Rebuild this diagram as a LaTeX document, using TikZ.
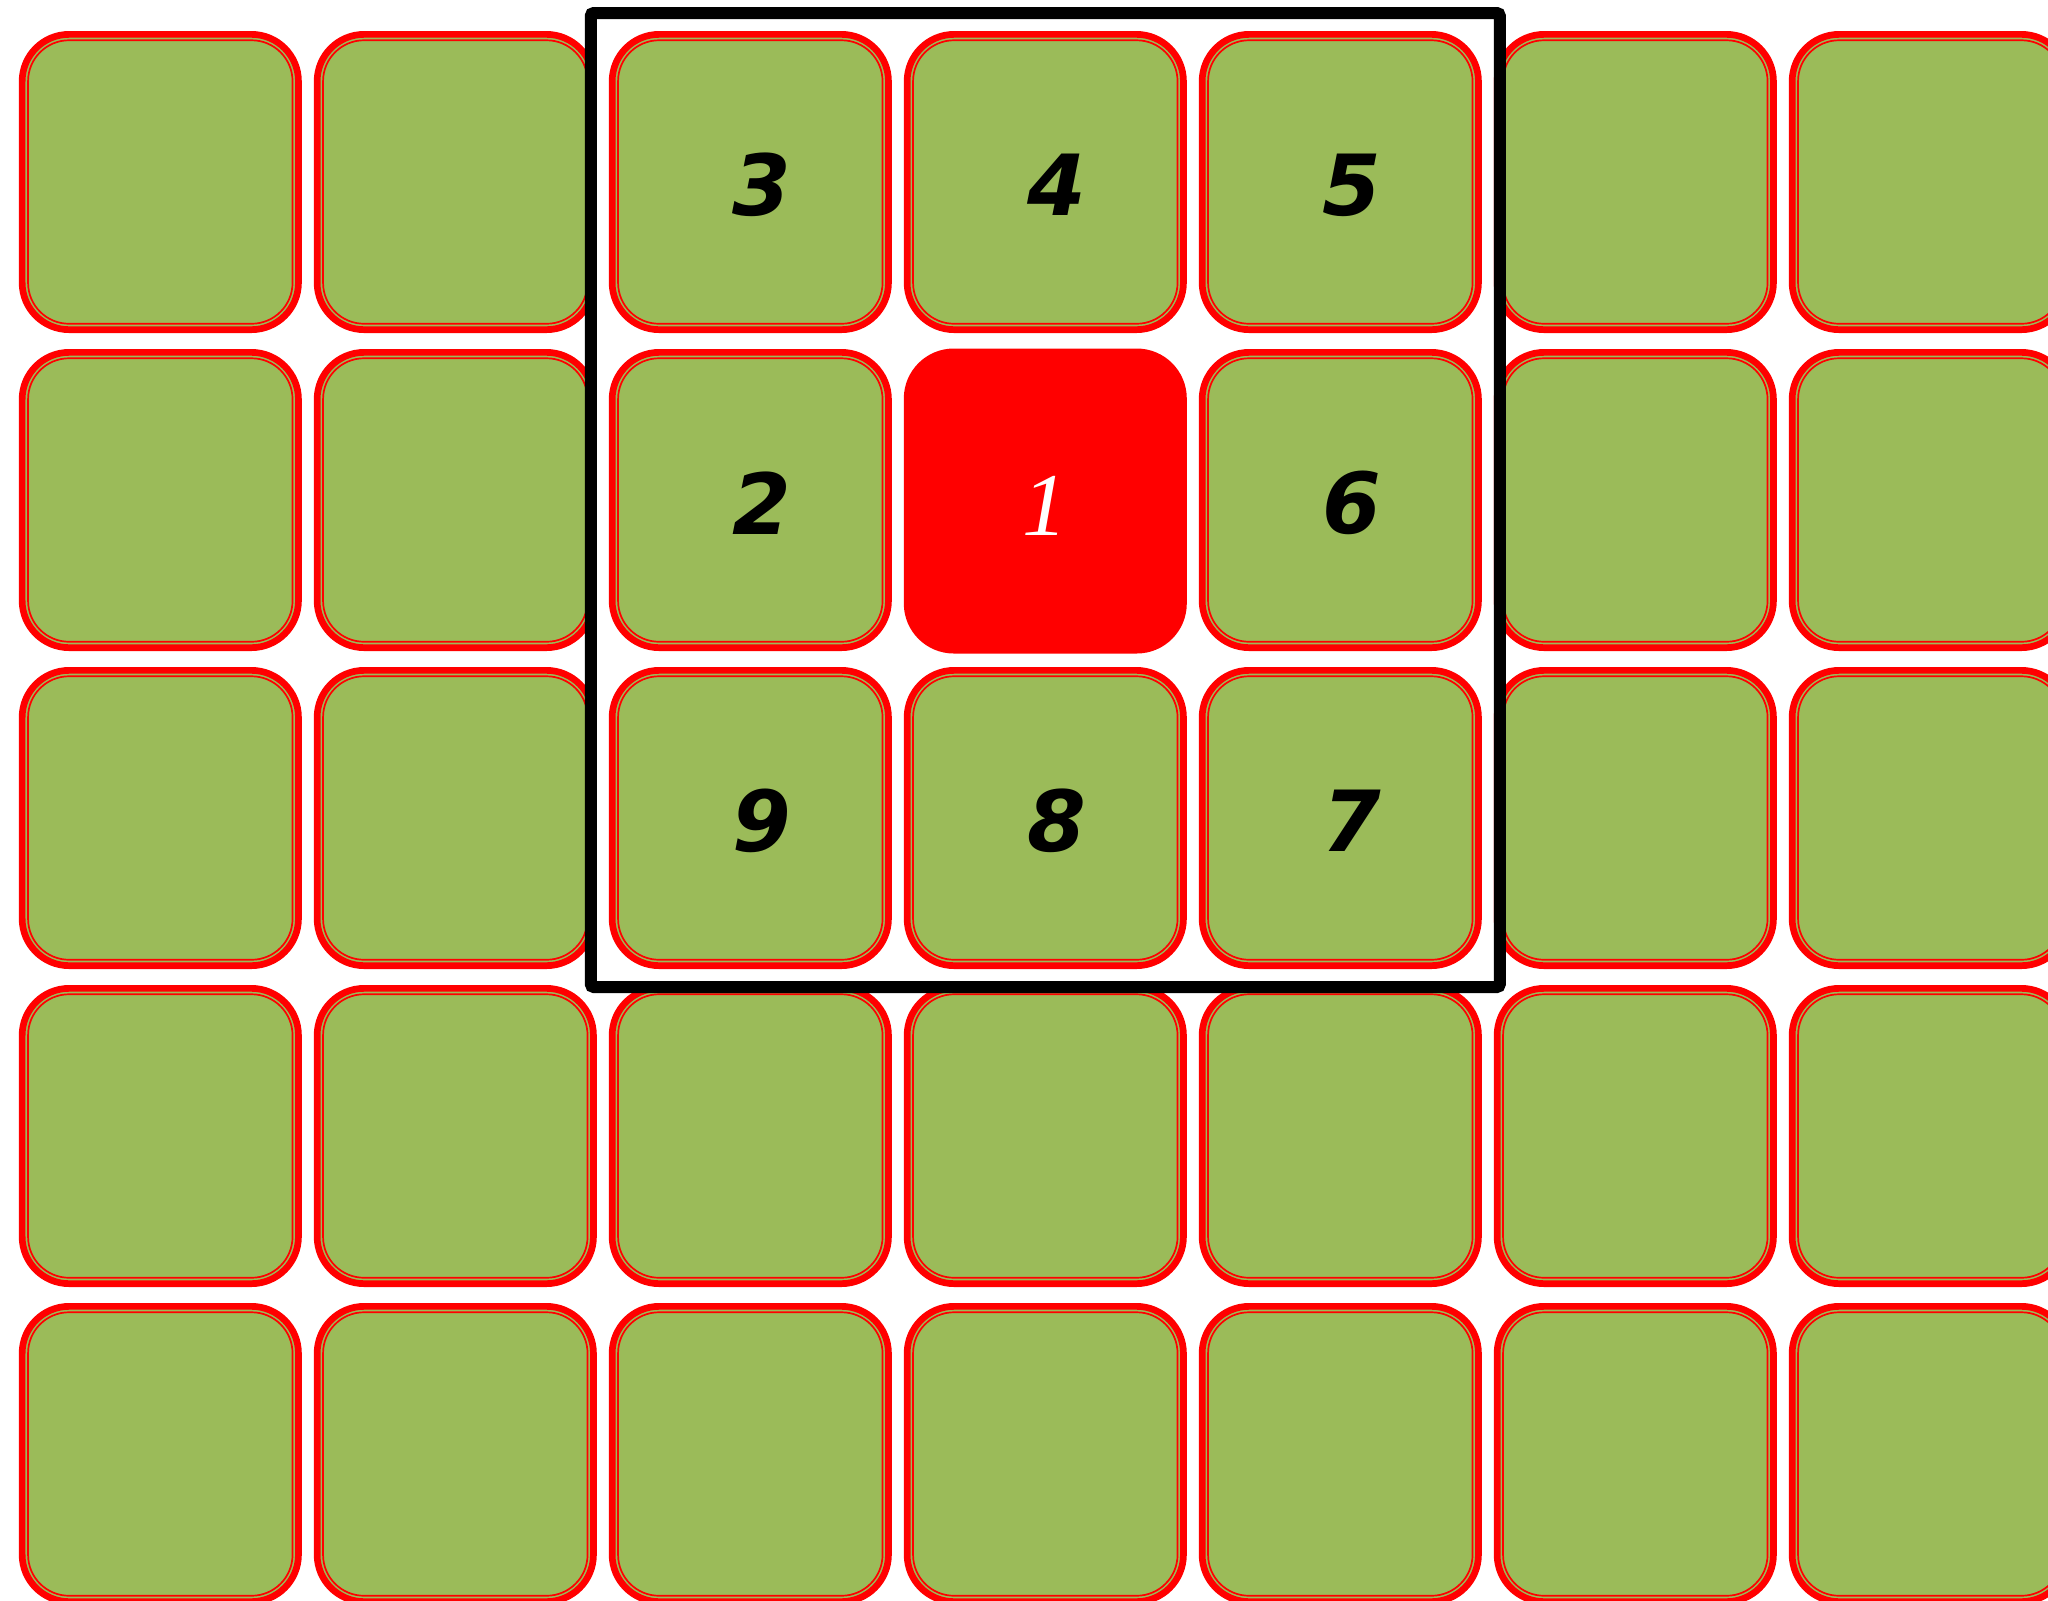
\documentclass[tikz,border=0pt]{standalone}
\usepackage{fontspec}
\usepackage{tikz}
\usetikzlibrary{
  positioning,
  fit
}
\newfontfamily\numfont{DejaVu Sans}
\newfontfamily\onefont{Liberation Serif}
\definecolor{cellgreen}{RGB}{155,187,89}
\definecolor{cellred}{RGB}{255,0,0}
\tikzset{
  cellbox/.style={
    draw=cellred,
    line width=0.067cm,
    fill=cellgreen,
    rounded corners=0.47cm,
    minimum width=2.763cm,
    minimum height=2.953cm,
    inner sep=0pt,
    path picture={
      \draw[cellred,line width=0.017cm,rounded corners=0.41cm]
        ([shift={(0.059cm,0.059cm)}]path picture bounding box.south west) rectangle
        ([shift={(-0.059cm,-0.059cm)}]path picture bounding box.north east);
    }
  },
  centerbox/.style={
    fill=cellred,
    rounded corners=0.5cm,
    minimum width=2.83cm,
    minimum height=3.05cm,
    inner sep=0pt,
    text=white,
    font=\onefont\itshape\fontsize{25.5}{30}\selectfont
  },
  numlabel/.style={
    inner sep=0pt,
    xshift=0.12cm,
    yshift=-0.03cm,
    font=\numfont\bfseries\itshape\fontsize{24}{28}\selectfont
  },
  framebox/.style={
    draw=black,
    line width=0.12cm,
    rounded corners=0.03cm,
    inner sep=0.18cm
  }
}

\begin{document}
\begin{tikzpicture}
  \useasboundingbox (0,0) rectangle (20.48,-16.01);

  % grid of cells, the middle one is the red cell
  \foreach \r in {0,...,4}{
    \foreach \c in {0,...,6}{
      \ifnum\r\c=13 \else
        \node[cellbox] (c-\r-\c) at ({1.603+2.95*\c},{-1.82-3.18*\r}) {};
      \fi
    }
  }
  \node[centerbox] (c-1-3) at ({1.603+2.95*3},{-1.83-3.18}) {\raisebox{-0.05cm}[\height][0pt]{1}};

  \foreach \r/\c/\n in {0/2/3,0/3/4,0/4/5,1/2/2,1/4/6,2/2/9,2/3/8,2/4/7}
    \node[numlabel] (n-\n) at (c-\r-\c) {\n};

  \node[framebox,fit=(c-0-2)(c-2-4)] (frame) {};
\end{tikzpicture}
\end{document}
